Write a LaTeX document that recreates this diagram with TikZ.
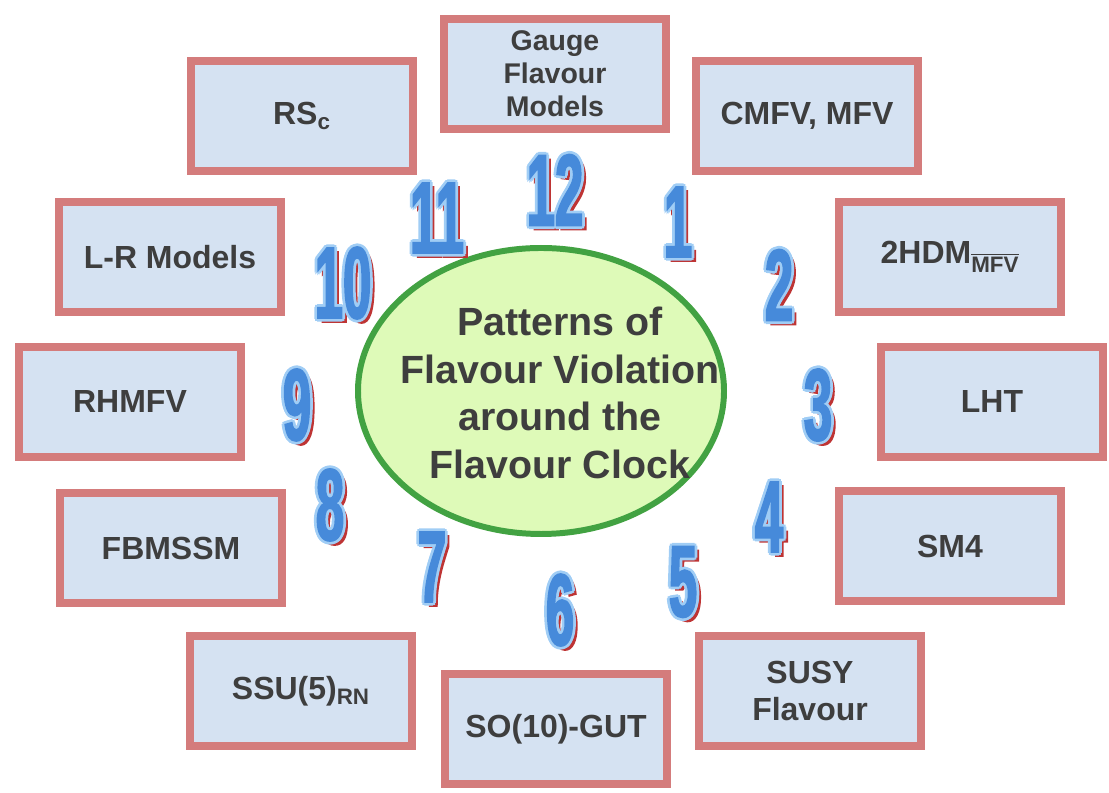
\documentclass[tikz,border=0pt]{standalone}
\usepackage{fontspec}
\setmainfont{Liberation Sans}
\newfontfamily\clockfont{Liberation Sans}[FakeStretch=0.5,FakeBold=1.6]
\usetikzlibrary{shapes.geometric}
\definecolor{boxred}{RGB}{212,124,124}
\definecolor{boxfill}{RGB}{213,226,242}
\definecolor{clockgreen}{RGB}{66,162,66}
\definecolor{clockfill}{RGB}{222,250,184}
\definecolor{numblue}{RGB}{70,138,218}
\definecolor{rimblue}{RGB}{160,205,245}
\definecolor{numred}{RGB}{190,52,52}
\definecolor{textgrey}{RGB}{62,62,62}

% numeral on the clock: red shadow, light rim, blue face
\newcommand{\clocknum}[3]{%
  \node[digitshadow] (#1s) at ([shift={(0.09,-0.08)}]#2) {#3};
  \foreach \a [count=\k] in {0,45,...,315}
    {\node[digitrim] (#1r\k) at ([shift={(\a:0.055)}]#2) {#3};}
  \node[digit] (#1) at (#2) {#3};
}

\begin{document}
\begin{tikzpicture}[
    model/.style={rectangle, draw=boxred, fill=boxfill, line width=4.5pt,
                  minimum width=4.44cm, minimum height=2.2cm, align=center,
                  text=textgrey, font=\bfseries\fontsize{18.2}{21.6}\selectfont},
    clock/.style={ellipse, draw=clockgreen, fill=clockfill, line width=3.4pt,
                  minimum width=7.32cm, minimum height=5.72cm, inner sep=0pt},
    digitbase/.style={inner sep=0pt, font=\clockfont\bfseries\fontsize{58}{58}\selectfont},
    digit/.style={digitbase, text=numblue},
    digitrim/.style={digitbase, text=rimblue},
    digitshadow/.style={digitbase, text=numred}
]
    \useasboundingbox (0,0) rectangle (22.18,15.86);

    % models around the clock
    \node[model, font=\bfseries\fontsize{16.2}{18.8}\selectfont] (gauge) at (11.1,14.38) {Gauge\\Flavour\\Models};
    \node[model] (cmfv) at (16.14,13.54) {CMFV, MFV};
    \node[model] (rsc) at (6.04,13.54) {RS\textsubscript{c}};
    \node[model] (lr) at (3.4,10.72) {L-R Models};
    \node[model] (thdm) at (19.0,10.72) {2HDM\textsubscript{$\overline{\hbox{MFV}}$}};
    \node[model] (rhmfv) at (2.6,7.82) {RHMFV};
    \node[model] (lht) at (19.84,7.82) {LHT};
    \node[model] (fbmssm) at (3.42,4.9) {FBMSSM};
    \node[model] (smfour) at (19.0,4.94) {SM4};
    \node[model] (ssu) at (6.02,2.04) {SSU(5)\textsubscript{RN}};
    \node[model] (susy) at (16.2,2.04) {SUSY\\Flavour};
    \node[model] (soten) at (11.12,1.28) {SO(10)-GUT};

    % the clock face
    \node[clock] (face) at (10.82,8.04) {};
    \node[align=center, text=textgrey, font=\bfseries\fontsize{22.4}{27}\selectfont]
        (title) at ([xshift=0.38cm,yshift=-0.04cm]face.center) {Patterns of\\Flavour Violation\\around the\\Flavour Clock};

    % hour numerals
    \clocknum{h12}{11.10,12.06}{12}
    \clocknum{h1}{13.56,11.42}{1}
    \clocknum{h2}{15.58,10.16}{2}
    \clocknum{h3}{16.36,7.76}{3}
    \clocknum{h4}{15.38,5.52}{4}
    \clocknum{h5}{13.66,4.22}{5}
    \clocknum{h6}{11.20,3.66}{6}
    \clocknum{h7}{8.64,4.52}{7}
    \clocknum{h8}{6.60,5.76}{8}
    \clocknum{h9}{5.94,7.76}{9}
    \clocknum{h10}{6.86,10.20}{10}
    \clocknum{h11}{8.74,11.50}{11}
\end{tikzpicture}
\end{document}
